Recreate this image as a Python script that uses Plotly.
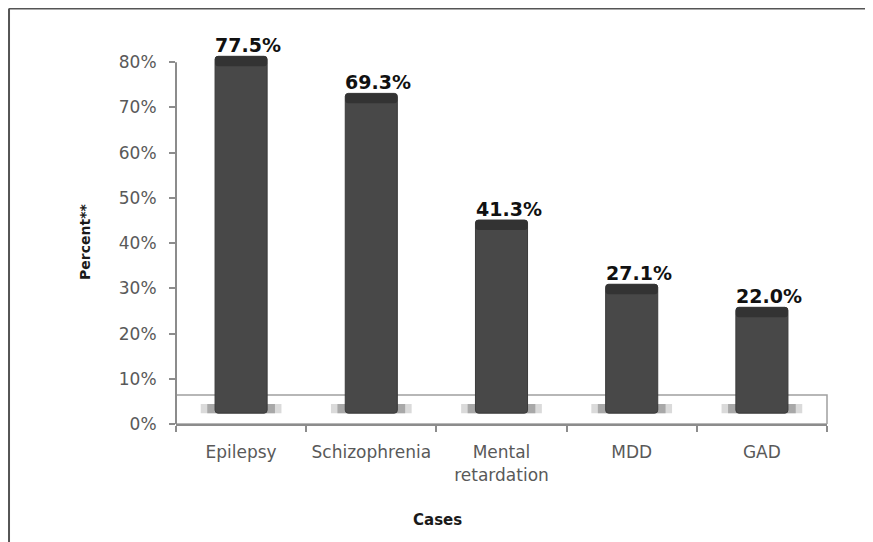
import plotly.graph_objects as go

categories = ["Epilepsy", "Schizophrenia", "Mental<br>retardation", "MDD", "GAD"]
values = [77.5, 69.3, 41.3, 27.1, 22.0]
ytick_vals = [0, 10, 20, 30, 40, 50, 60, 70, 80]
ytick_text = ["0%", "10%", "20%", "30%", "40%", "50%", "60%", "70%", "80%"]

# 3D-look constants (Excel style raised bars)
BASE = 2.4      # bars start slightly above the floor
RAISE = 3.8     # visual top offset relative to value
CAP = 2.2       # thickness of darker top face

fig = go.Figure()

# floor shadows
fig.add_trace(go.Bar(x=categories, y=[2.0] * len(values), base=[BASE] * len(values),
                     width=0.62, marker=dict(color="#dadada", line=dict(width=0)),
                     hoverinfo="skip", showlegend=False))
fig.add_trace(go.Bar(x=categories, y=[2.0] * len(values), base=[BASE] * len(values),
                     width=0.52, marker=dict(color="#a8a8a8", line=dict(width=0)),
                     hoverinfo="skip", showlegend=False))
# main bar body
fig.add_trace(go.Bar(x=categories, y=[v + RAISE - BASE for v in values], base=[BASE] * len(values),
                     width=0.4, marker=dict(color="#484848", line=dict(color="#3a3a3a", width=1),
                                            cornerradius=3),
                     showlegend=False))
# darker top face
fig.add_trace(go.Bar(x=categories, y=[CAP] * len(values), base=[v + RAISE - CAP for v in values],
                     width=0.4, marker=dict(color="#333333", line=dict(width=0), cornerradius=3),
                     hoverinfo="skip", showlegend=False))

for c, v in zip(categories, values):
    fig.add_annotation(x=c, y=v + RAISE, text=f"{v:.1f}%", showarrow=False,
                       xanchor="center", yanchor="bottom", xshift=7, yshift=-2,
                       font=dict(family="DejaVu Sans", size=19, color="#111111", weight="bold"))

# floor outline
fig.add_shape(type="rect", xref="x domain", yref="y", x0=0, x1=1, y0=0, y1=6.4,
              line=dict(color="#a0a0a0", width=1.5), layer="below")
# y axis line (only up to 80%)
fig.add_shape(type="line", xref="x domain", yref="y", x0=0, x1=0, y0=0, y1=80,
              line=dict(color="#8c8c8c", width=2))
# outer frame (top and left)
fig.add_shape(type="line", xref="paper", yref="paper", x0=-0.2565, x1=1.2, y0=1.0440, y1=1.0440,
              line=dict(color="#555555", width=2))
fig.add_shape(type="line", xref="paper", yref="paper", x0=-0.2565, x1=-0.2565, y0=-0.4, y1=1.0440,
              line=dict(color="#555555", width=2))

fig.add_annotation(text="Percent**", xref="paper", yref="paper", x=-0.14, y=0.457,
                   xanchor="center", yanchor="middle", textangle=-90, showarrow=False,
                   font=dict(family="DejaVu Sans", size=14, color="#1a1a1a", weight="bold"))
fig.add_annotation(text="Cases", xref="paper", yref="paper", x=0.401, y=-0.241,
                   xanchor="center", yanchor="middle", showarrow=False,
                   font=dict(family="DejaVu Sans", size=15, color="#1a1a1a", weight="bold"))

fig.update_layout(
    width=873, height=542,
    margin=dict(l=168, r=54, t=18, b=126),
    paper_bgcolor="white", plot_bgcolor="white",
    barmode="overlay", bargap=0.6,
    font=dict(family="DejaVu Sans", size=17, color="#595959"),
)
fig.update_xaxes(type="category", showline=True, linecolor="#8c8c8c", linewidth=2,
                 ticks="outside", ticklen=6, tickcolor="#8c8c8c", tickwidth=2,
                 tickson="boundaries", showgrid=False, zeroline=False, ticklabelstandoff=12,
                 tickfont=dict(family="DejaVu Sans", size=17, color="#595959"))
fig.update_yaxes(range=[0, 88], showline=False, showgrid=False, zeroline=False,
                 tickvals=ytick_vals, ticktext=ytick_text, ticklabelstandoff=9,
                 ticks="outside", ticklen=6, tickcolor="#8c8c8c", tickwidth=2,
                 tickfont=dict(family="DejaVu Sans", size=17, color="#595959"))

fig.write_html("out.html")
